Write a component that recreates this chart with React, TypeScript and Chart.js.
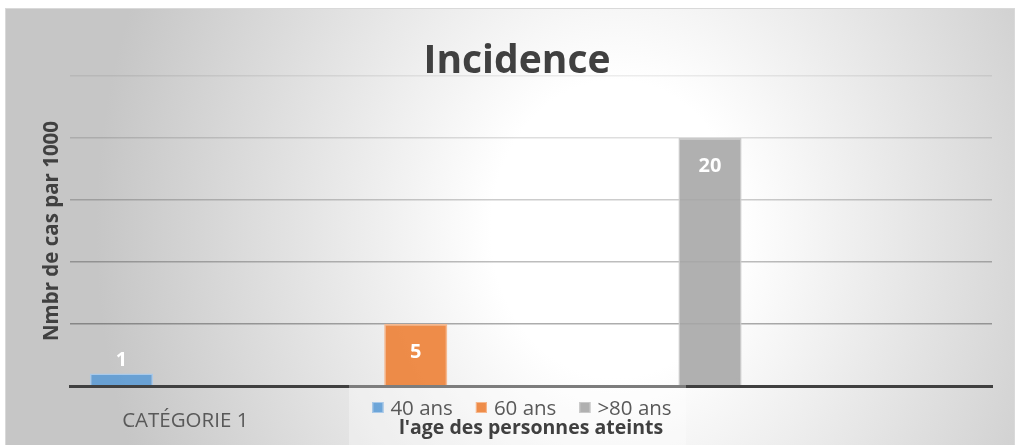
import React, { useEffect, useRef } from "react";
import { Chart, registerables } from "chart.js";

Chart.register(...registerables);

const categories = ["CATÉGORIE 1", "", "", ""];
const seriesLabels = ["40 ans", "60 ans", ">80 ans"];
const series40 = [1, null, null, null];
const series60 = [null, 5, null, null];
const series80 = [null, null, 20, null];
const yMax = 25;
const yStep = 5;

const chartTitle = "Incidence";
const yTitle = "Nmbr de cas par 1000";
const xTitle = "l'age des personnes ateints";

const fills = ["rgba(91,155,213,0.88)", "rgba(237,125,49,0.88)", "rgba(165,165,165,0.88)"];
const borders = ["#a9c9e9", "#f6b98f", "#c9c9c9"];
const FONT = "'Open Sans', 'Noto Sans', sans-serif";

const gridColors: Record<number, string> = {
  0: "rgba(0,0,0,0)",
  5: "rgba(0,0,0,0.32)",
  10: "rgba(0,0,0,0.26)",
  15: "rgba(0,0,0,0.20)",
  20: "rgba(0,0,0,0.13)",
  25: "rgba(0,0,0,0.07)",
};

const textPlugin = {
  id: "textPlugin",
  afterDatasetsDraw(chart: any) {
    const ctx = chart.ctx;
    ctx.save();
    ctx.fillStyle = "#ffffff";
    ctx.font = `bold 20px ${FONT}`;
    ctx.textAlign = "center";
    ctx.textBaseline = "middle";
    chart.data.datasets.forEach((ds: any, di: number) => {
      const meta = chart.getDatasetMeta(di);
      meta.data.forEach((el: any, i: number) => {
        const v = ds.data[i];
        if (v === null || v === undefined) return;
        const h = el.base - el.y;
        const y = h > 40 ? el.y + 28 : el.y - 13;
        ctx.fillText(String(v), el.x, y);
      });
    });
    ctx.restore();
  },
  afterDraw(chart: any) {
    const ctx = chart.ctx;
    const area = chart.chartArea;
    ctx.save();
    // title
    ctx.fillStyle = "#404040";
    ctx.font = `bold 39px ${FONT}`;
    ctx.textAlign = "center";
    ctx.textBaseline = "alphabetic";
    ctx.fillText(chartTitle, 511, 64);
    // y title
    ctx.save();
    ctx.translate(46, (area.top + area.bottom) / 2);
    ctx.rotate(-Math.PI / 2);
    ctx.font = `bold 20.5px ${FONT}`;
    ctx.textBaseline = "middle";
    ctx.fillText(yTitle, 0, 0);
    ctx.restore();
    // legend box
    ctx.fillStyle = "rgba(255,255,255,0.32)";
    ctx.fillRect(343, 376, 337, 60);
    // legend items
    ctx.font = `20.5px ${FONT}`;
    ctx.textAlign = "left";
    ctx.textBaseline = "alphabetic";
    const sq = 11;
    const gap = 7;
    const spacing = 23;
    const widths = seriesLabels.map((l) => sq + gap + ctx.measureText(l).width);
    const total = widths.reduce((a, b) => a + b, 0) + spacing * (widths.length - 1);
    let x = 516 - total / 2;
    chart.data.datasets.forEach((ds: any, i: number) => {
      ctx.fillStyle = ds.backgroundColor;
      ctx.fillRect(x, 393, sq, sq);
      ctx.strokeStyle = ds.borderColor;
      ctx.lineWidth = 1;
      ctx.strokeRect(x + 0.5, 393.5, sq - 1, sq - 1);
      ctx.fillStyle = "#595959";
      ctx.fillText(ds.label, x + sq + gap, 406);
      x += widths[i] + spacing;
    });
    // x title
    ctx.fillStyle = "#404040";
    ctx.font = `bold 19.5px ${FONT}`;
    ctx.textAlign = "center";
    ctx.fillText(xTitle, (area.left + area.right) / 2, 425);
    ctx.restore();
  },
};

export default function App() {
  const ref = useRef<HTMLCanvasElement>(null);
  useEffect(() => {
    if (!ref.current) return;
    const data = [series40, series60, series80];
    const chart = new Chart(ref.current, {
      type: "bar",
      data: {
        labels: categories,
        datasets: seriesLabels.map((label, i) => ({
          label,
          data: data[i],
          backgroundColor: fills[i],
          borderColor: borders[i],
          borderWidth: 1.5,
          categoryPercentage: 0.83,
          barPercentage: 0.99,
        })),
      },
      options: {
        animation: false,
        responsive: true,
        maintainAspectRatio: false,
        layout: { padding: { left: 64, right: 22, top: 67, bottom: 14 } },
        plugins: {
          legend: { display: false },
          title: { display: false },
          tooltip: { enabled: false },
        },
        scales: {
          x: {
            afterFit: (s: any) => {
              s.height = 45;
            },
            grid: { display: false, drawTicks: false },
            border: { display: true, color: "#404040", width: 3, z: 1 },
            ticks: {
              color: "#595959",
              font: { family: FONT, size: 20.5 },
              padding: 23,
              maxRotation: 0,
              autoSkip: false,
            },
          },
          y: {
            min: 0,
            max: yMax,
            afterFit: (s: any) => {
              s.width = 0;
            },
            ticks: { display: false, stepSize: yStep },
            grid: {
              drawTicks: false,
              lineWidth: 1.5,
              color: (c: any) => gridColors[c.tick?.value] ?? "rgba(0,0,0,0.15)",
            },
            border: { display: false },
          },
        },
      },
      plugins: [textPlugin],
    });
    return () => chart.destroy();
  }, []);

  return (
    <div style={{ position: "fixed", left: 0, top: 0, width: 1017, height: 445, overflow: "hidden", background: "#ffffff" }}>
      <div
        style={{
          position: "absolute",
          left: 5,
          top: 8,
          width: 1010,
          height: 445,
          boxSizing: "border-box",
          border: "1px solid #d9d9d9",
          background: "radial-gradient(ellipse 520px 620px at 610px 220px, #ffffff 24%, #c6c6c6 100%)",
        }}
      >
        <div style={{ position: "absolute", left: 0, top: 0, width: 1008, height: 436 }}>
          <canvas ref={ref} />
        </div>
      </div>
    </div>
  );
}
